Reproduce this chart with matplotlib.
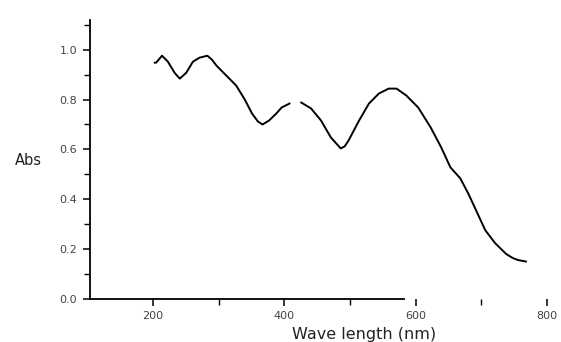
import numpy as np
import matplotlib
matplotlib.use("Agg")
from matplotlib import pyplot as plt
from matplotlib.ticker import MultipleLocator

# absorbance spectrum (gap between the two parts)
wl_part1 = [203, 205, 214, 223, 233, 241, 251, 261, 271, 283, 290, 297, 312, 327,
            340, 351, 360, 367, 377, 388, 396, 408]
abs_part1 = [0.948, 0.948, 0.976, 0.952, 0.908, 0.884, 0.908, 0.952, 0.968, 0.976,
             0.960, 0.936, 0.896, 0.856, 0.800, 0.744, 0.712, 0.700, 0.716, 0.744,
             0.768, 0.784]
wl_part2 = [426, 441, 456, 471, 486, 492, 498, 514, 529, 544, 559, 571, 586, 604,
            623, 639, 653, 668, 680, 692, 706, 721, 738, 748, 756, 768]
abs_part2 = [0.788, 0.764, 0.716, 0.648, 0.604, 0.612, 0.636, 0.716, 0.784, 0.824,
             0.844, 0.844, 0.816, 0.768, 0.688, 0.608, 0.528, 0.484, 0.424, 0.356,
             0.276, 0.224, 0.180, 0.164, 0.156, 0.150]

x_ticks = [200, 400, 600, 800]
y_ticks = [0.0, 0.2, 0.4, 0.6, 0.8, 1.0]

wl = np.array(wl_part1 + [np.nan] + wl_part2, dtype=float)
ab = np.array(abs_part1 + [np.nan] + abs_part2, dtype=float)

fig = plt.figure(figsize=(5.61, 3.42), dpi=100)
ax = fig.add_axes([0.16, 0.126, 0.815, 0.816])
ax.plot(wl, ab, '-', color='black', lw=1.4, solid_joinstyle='round')

ax.set_xlim(104, 800)
ax.set_ylim(0, 1.12)
ax.set_xticks(x_ticks)
ax.set_yticks(y_ticks)
ax.set_yticklabels(["%.1f" % v for v in y_ticks])
ax.xaxis.set_minor_locator(MultipleLocator(100))
ax.yaxis.set_minor_locator(MultipleLocator(0.1))

for s in ["top", "right"]:
    ax.spines[s].set_visible(False)
ax.spines["bottom"].set_bounds(104, 582)
ax.spines["left"].set_linewidth(1.3)
ax.spines["bottom"].set_linewidth(1.3)

ax.tick_params(axis='both', which='major', direction='out', length=5, width=1.1,
               labelsize=8, labelcolor='#444444', pad=4)
ax.tick_params(axis='both', which='minor', direction='out', length=4, width=1.0)

ax.set_xlabel("Wave length (nm)", fontsize=11.5, color='#222222', labelpad=2)
ax.xaxis.set_label_coords(0.60, -0.10)
ax.set_ylabel("Abs", fontsize=10.5, color='#222222', rotation=0)
ax.yaxis.set_label_coords(-0.135, 0.47)

fig.savefig("out.png", dpi=100)
